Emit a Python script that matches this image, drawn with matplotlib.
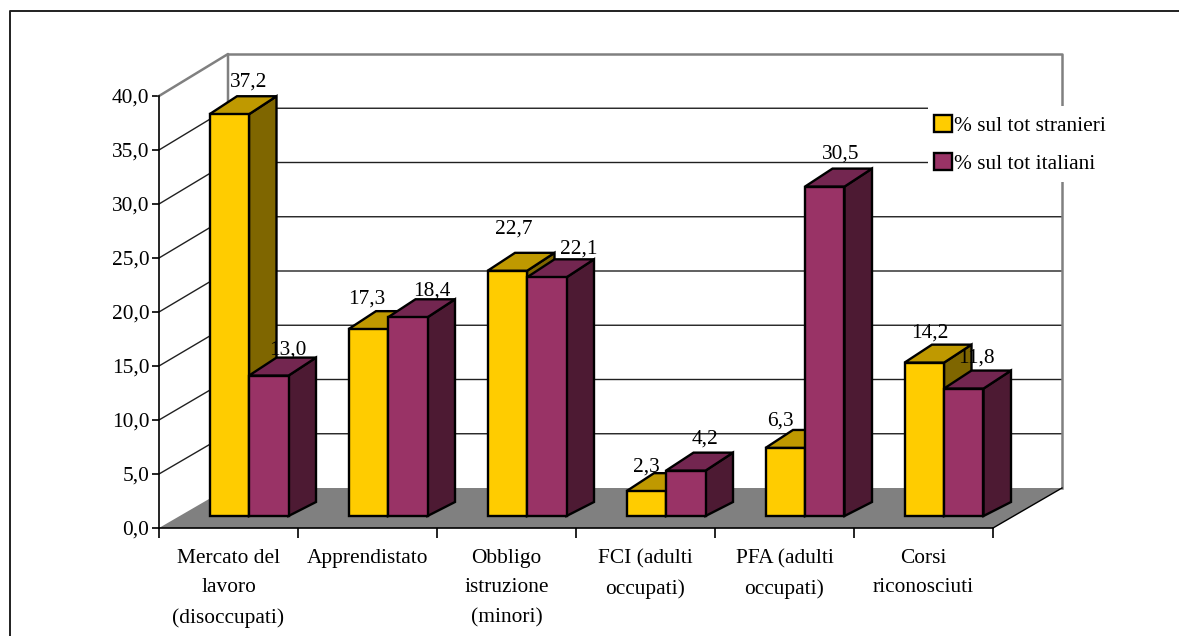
#!/usr/bin/env python3
"""Fake-3D clustered bars: % stranieri vs % italiani by type of training course."""

import matplotlib
matplotlib.use('Agg')
import matplotlib.pyplot as plt
from matplotlib.lines import Line2D
from matplotlib.patches import Polygon, Patch, Rectangle

categories = ['Mercato del\nlavoro\n(disoccupati)', 'Apprendistato', 'Obbligo\nistruzione\n(minori)',
              'FCI (adulti\noccupati)', 'PFA (adulti\noccupati)', 'Corsi\nriconosciuti']
stranieri = [37.2, 17.3, 22.7, 2.3, 6.3, 14.2]
italiani = [13.0, 18.4, 22.1, 4.2, 30.5, 11.8]
series_names = ['% sul tot stranieri', '% sul tot italiani']
y_ticks = [0, 5, 10, 15, 20, 25, 30, 35, 40]

W, H = 1179, 636
X0, X1, Y0, Y40 = 159, 993, 528, 96
PX = 6 / (X1 - X0)       # x data units per pixel
PY = 40 / (Y0 - Y40)     # y data units per pixel

YELLOW = ('#FFCC00', '#BF9900', '#7F6600')
MAROON = ('#993366', '#732650', '#4D1A33')
FONT = 'Liberation Serif'
FS = 15.4

# pixel offset from bar top to the centre of its label (dx, dy)
STR_LABEL_OFF = [(19, 32), (-2, 30), (7, 42), (0, 24), (-5, 27), (6, 30)]
ITA_LABEL_OFF = [(19, 26), (24, 26), (32, 28), (19, 32), (16, 33), (13, 31)]


def comma(v):
    return f'{v:.1f}'.replace('.', ',')


def draw_walls(ax):
    wall_dx = 69 * PX
    back = lambda v: v + (40 + 2 * v / 40) * PY
    ax.add_patch(Polygon([(0, 0), (wall_dx, back(0)), (6 + wall_dx, back(0)), (6, 0)],
                         facecolor='#808080', edgecolor='none', zorder=1, clip_on=False))
    for v in y_ticks[1:-1]:
        ax.plot([0, wall_dx, 6 + wall_dx], [v, back(v), back(v)], color='#202020', lw=1.0,
                zorder=2, clip_on=False)
    ax.plot([0, wall_dx, wall_dx], [40, back(40), back(0)], color='#808080', lw=1.8, zorder=2, clip_on=False)
    ax.plot([wall_dx, 6 + wall_dx, 6 + wall_dx], [back(40), back(40), back(0)], color='#808080', lw=1.8,
            zorder=2, clip_on=False)
    ax.plot([6, 6 + wall_dx], [0, back(0)], color='black', lw=1.0, zorder=2, clip_on=False)


def draw_bar(ax, x, value, colors, z):
    width = 39.5 * PX
    base = 12 * PY
    depth_x = 27.5 * PX
    top = base + value
    x1 = x + width
    style = dict(edgecolor='black', lw=1.7, joinstyle='miter', clip_on=False, zorder=z)
    ax.add_patch(Polygon([(x1, base), (x1 + depth_x, base + 14 * PY), (x1 + depth_x, top + 18 * PY), (x1, top)],
                         facecolor=colors[2], **style))
    ax.add_patch(Polygon([(x, top), (x1, top), (x1 + depth_x, top + 18 * PY), (x + depth_x, top + 18 * PY)],
                         facecolor=colors[1], **style))
    ax.add_patch(Polygon([(x, base), (x1, base), (x1, top), (x, top)], facecolor=colors[0], **style))
    return top


def main():
    plt.rcParams['font.family'] = FONT
    plt.rcParams['font.size'] = FS

    fig = plt.figure(figsize=(W / 100, H / 100), dpi=100, facecolor='white')
    ax = fig.add_axes([X0 / W, 1 - Y0 / H, (X1 - X0) / W, (Y0 - Y40) / H])
    ax.patch.set_visible(False)

    # outer frame: only left and top show, the rest was cropped away
    fig.add_artist(Line2D([10 / W, 10 / W, 1], [0, 1 - 11 / H, 1 - 11 / H], transform=fig.transFigure,
                          color='#202020', lw=1.4))

    ax.set_xlim(0, 6)
    ax.set_ylim(0, 40)
    for side in ['top', 'right']:
        ax.spines[side].set_visible(False)
    for side in ['left', 'bottom']:
        ax.spines[side].set_linewidth(1.2)
        ax.spines[side].set_zorder(3)

    ax.set_yticks(y_ticks)
    ax.set_yticklabels([comma(v) for v in y_ticks])
    ax.tick_params(axis='y', length=5, width=1.2, pad=2)

    ax.set_xticks(range(7))
    ax.set_xticklabels([''] * 7)
    ax.tick_params(axis='x', length=7.5, width=1.2)
    for i, label in enumerate(categories):
        ax.text(i + 0.5, -21 * PY, label, ha='center', va='top', linespacing=1.74)

    draw_walls(ax)

    bar_offset = 50.5 * PX
    bar_width = 39.5 * PX
    for i in range(len(categories)):
        left = i + bar_offset
        top_s = draw_bar(ax, left, stranieri[i], YELLOW, 5)
        top_i = draw_bar(ax, left + bar_width, italiani[i], MAROON, 6)
        dx, dy = STR_LABEL_OFF[i]
        ax.text(left + bar_width / 2 + dx * PX, top_s + dy * PY, comma(stranieri[i]),
                ha='center', va='center', zorder=8)
        dx, dy = ITA_LABEL_OFF[i]
        ax.text(left + bar_width * 1.5 + dx * PX, top_i + dy * PY, comma(italiani[i]),
                ha='center', va='center', zorder=8)

    # white box behind the legend, it interrupts the wall and the grid
    fig.add_artist(Rectangle((928 / W, 1 - 182 / H), 182 / W, 76 / H, transform=fig.transFigure,
                             facecolor='white', edgecolor='none', zorder=7))
    handles = [Patch(facecolor=YELLOW[0], edgecolor='black', lw=1.7),
               Patch(facecolor=MAROON[0], edgecolor='black', lw=1.7)]
    leg = ax.legend(handles, series_names, loc='upper left', frameon=False,
                    bbox_to_anchor=(934 / W, 1 - 115 / H), bbox_transform=fig.transFigure,
                    borderaxespad=0, borderpad=0, handlelength=0.85, handleheight=0.85,
                    handletextpad=0.1, labelspacing=0.8)
    leg.set_zorder(8)
    fig.add_artist(leg)
    ax.legend_ = None

    fig.savefig('out.png', dpi=100)
    plt.close(fig)


if __name__ == '__main__':
    main()
